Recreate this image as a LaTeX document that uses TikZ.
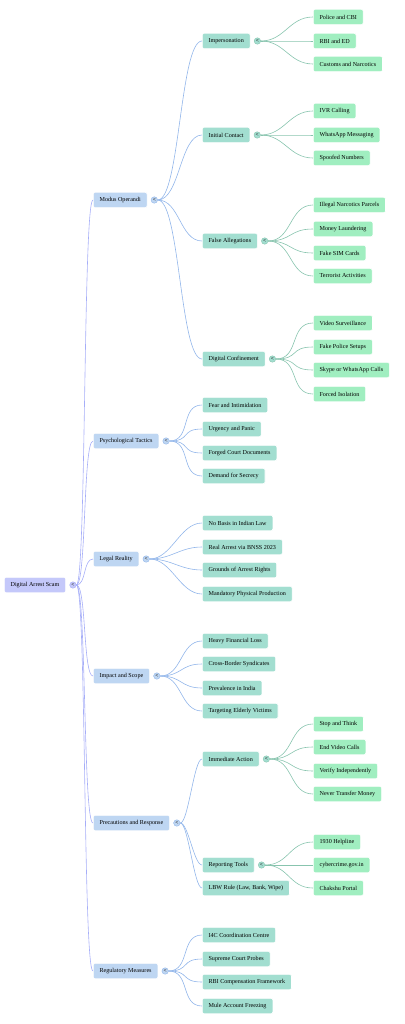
\documentclass[tikz,border=0pt]{standalone}
\usepackage{fontspec}
\setmainfont{Liberation Serif}
\usetikzlibrary{positioning}
\definecolor{rootfill}{RGB}{196,200,250}
\definecolor{rootline}{RGB}{166,174,248}
\definecolor{bluefill}{RGB}{190,214,242}
\definecolor{blueline}{RGB}{146,182,234}
\definecolor{tealfill}{RGB}{162,222,208}
\definecolor{tealline}{RGB}{136,196,174}
\definecolor{greenfill}{RGB}{160,238,192}

\begin{document}
\begin{tikzpicture}[x=1pt,y=-1pt,
  box/.style={anchor=west,rounded corners=2pt,draw=white,line width=0.6pt,
    minimum height=15.5pt,inner xsep=6.3pt,inner ysep=0pt,
    font=\fontsize{6.1}{7}\selectfont,text=black},
  rootnode/.style={box,fill=rootfill},
  bnode/.style={box,fill=bluefill},
  tnode/.style={box,fill=tealfill},
  gnode/.style={box,fill=greenfill},
  knob/.style={circle,inner sep=0pt,minimum size=6.5pt,line width=0.4pt,
    right=3.5pt of #1,font=\fontsize{5.5}{5.5}\selectfont\bfseries,text=black!85},
  curve/.style={line width=0.6pt,
    to path={.. controls +(#1,0) and +(-#1,0) .. (\tikztotarget)}}]

  \useasboundingbox (0,0) rectangle (404,1024);

  % root
  \node[rootnode] (root) at (4,585) {Digital Arrest Scam};
  \node[knob=root,fill=rootfill,draw=rootline] (root-k) {<};

  % first level
  \node[bnode] (mo) at (93,200) {Modus Operandi};
  \node[bnode] (pt) at (93,441) {Psychological Tactics};
  \node[bnode] (lr) at (93,559) {Legal Reality};
  \node[bnode] (is) at (93,676) {Impact and Scope};
  \node[bnode] (pr) at (93,823) {Precautions and Response};
  \node[bnode] (rm) at (93,971) {Regulatory Measures};
  \node[knob=mo,fill=bluefill,draw=blueline] (mo-k) {<};
  \node[knob=pt,fill=bluefill,draw=blueline] (pt-k) {<};
  \node[knob=lr,fill=bluefill,draw=blueline] (lr-k) {<};
  \node[knob=is,fill=bluefill,draw=blueline] (is-k) {<};
  \node[knob=pr,fill=bluefill,draw=blueline] (pr-k) {<};
  \node[knob=rm,fill=bluefill,draw=blueline] (rm-k) {<};

  % second level
  \node[tnode] (imp) at (202,41) {Impersonation};
  \node[tnode] (ic) at (202,135) {Initial Contact};
  \node[tnode] (fa) at (202,241) {False Allegations};
  \node[tnode] (dc) at (202,359) {Digital Confinement};
  \node[tnode] (pt1) at (202,405) {Fear and Intimidation};
  \node[tnode] (pt2) at (202,429) {Urgency and Panic};
  \node[tnode] (pt3) at (202,453) {Forged Court Documents};
  \node[tnode] (pt4) at (202,476) {Demand for Secrecy};
  \node[tnode] (lr1) at (202,523) {No Basis in Indian Law};
  \node[tnode] (lr2) at (202,547) {Real Arrest via BNSS 2023};
  \node[tnode] (lr3) at (202,570) {Grounds of Arrest Rights};
  \node[tnode] (lr4) at (202,594) {Mandatory Physical Production};
  \node[tnode] (is1) at (202,641) {Heavy Financial Loss};
  \node[tnode] (is2) at (202,664) {Cross-Border Syndicates};
  \node[tnode] (is3) at (202,688) {Prevalence in India};
  \node[tnode] (is4) at (202,711) {Targeting Elderly Victims};
  \node[tnode] (ia) at (202,759) {Immediate Action};
  \node[tnode] (rt) at (202,865) {Reporting Tools};
  \node[tnode] (lbw) at (202,888) {LBW Rule (Law, Bank, Wipe)};
  \node[tnode] (rm1) at (202,935) {I4C Coordination Centre};
  \node[tnode] (rm2) at (202,959) {Supreme Court Probes};
  \node[tnode] (rm3) at (202,982) {RBI Compensation Framework};
  \node[tnode] (rm4) at (202,1006) {Mule Account Freezing};
  \node[knob=imp,fill=tealfill,draw=tealline] (imp-k) {<};
  \node[knob=ic,fill=tealfill,draw=tealline] (ic-k) {<};
  \node[knob=fa,fill=tealfill,draw=tealline] (fa-k) {<};
  \node[knob=dc,fill=tealfill,draw=tealline] (dc-k) {<};
  \node[knob=ia,fill=tealfill,draw=tealline] (ia-k) {<};
  \node[knob=rt,fill=tealfill,draw=tealline] (rt-k) {<};

  % third level
  \node[gnode] (imp1) at (313,17) {Police and CBI};
  \node[gnode] (imp2) at (313,41) {RBI and ED};
  \node[gnode] (imp3) at (313,64) {Customs and Narcotics};
  \node[gnode] (ic1) at (313,111) {IVR Calling};
  \node[gnode] (ic2) at (313,135) {WhatsApp Messaging};
  \node[gnode] (ic3) at (313,158) {Spoofed Numbers};
  \node[gnode] (fa1) at (313,205) {Illegal Narcotics Parcels};
  \node[gnode] (fa2) at (313,229) {Money Laundering};
  \node[gnode] (fa3) at (313,253) {Fake SIM Cards};
  \node[gnode] (fa4) at (313,276) {Terrorist Activities};
  \node[gnode] (dc1) at (313,323) {Video Surveillance};
  \node[gnode] (dc2) at (313,347) {Fake Police Setups};
  \node[gnode] (dc3) at (313,370) {Skype or WhatsApp Calls};
  \node[gnode] (dc4) at (313,394) {Forced Isolation};
  \node[gnode] (ia1) at (313,724) {Stop and Think};
  \node[gnode] (ia2) at (313,747) {End Video Calls};
  \node[gnode] (ia3) at (313,771) {Verify Independently};
  \node[gnode] (ia4) at (313,794) {Never Transfer Money};
  \node[gnode] (rt1) at (313,842) {1930 Helpline};
  \node[gnode] (rt2) at (313,865) {cybercrime.gov.in};
  \node[gnode] (rt3) at (313,888) {Chakshu Portal};

  % links
  \draw[curve=10,rootline] (root-k.east) edge (mo.west) edge (pt.west) edge (lr.west)
    edge (is.west) edge (pr.west) edge (rm.west);
  \draw[curve=22,blueline] (mo-k.east) edge (imp.west) edge (ic.west) edge (fa.west) edge (dc.west);
  \draw[curve=22,blueline] (pt-k.east) edge (pt1.west) edge (pt2.west) edge (pt3.west) edge (pt4.west);
  \draw[curve=22,blueline] (lr-k.east) edge (lr1.west) edge (lr2.west) edge (lr3.west) edge (lr4.west);
  \draw[curve=22,blueline] (is-k.east) edge (is1.west) edge (is2.west) edge (is3.west) edge (is4.west);
  \draw[curve=8,blueline] (pr-k.east) edge (ia.west) edge (rt.west) edge (lbw.west);
  \draw[curve=22,blueline] (rm-k.east) edge (rm1.west) edge (rm2.west) edge (rm3.west) edge (rm4.west);
  \draw[curve=24,tealline] (imp-k.east) edge (imp1.west) edge (imp2.west) edge (imp3.west);
  \draw[curve=24,tealline] (ic-k.east) edge (ic1.west) edge (ic2.west) edge (ic3.west);
  \draw[curve=24,tealline] (fa-k.east) edge (fa1.west) edge (fa2.west) edge (fa3.west) edge (fa4.west);
  \draw[curve=24,tealline] (dc-k.east) edge (dc1.west) edge (dc2.west) edge (dc3.west) edge (dc4.west);
  \draw[curve=24,tealline] (ia-k.east) edge (ia1.west) edge (ia2.west) edge (ia3.west) edge (ia4.west);
  \draw[curve=24,tealline] (rt-k.east) edge (rt1.west) edge (rt2.west) edge (rt3.west);
\end{tikzpicture}
\end{document}
